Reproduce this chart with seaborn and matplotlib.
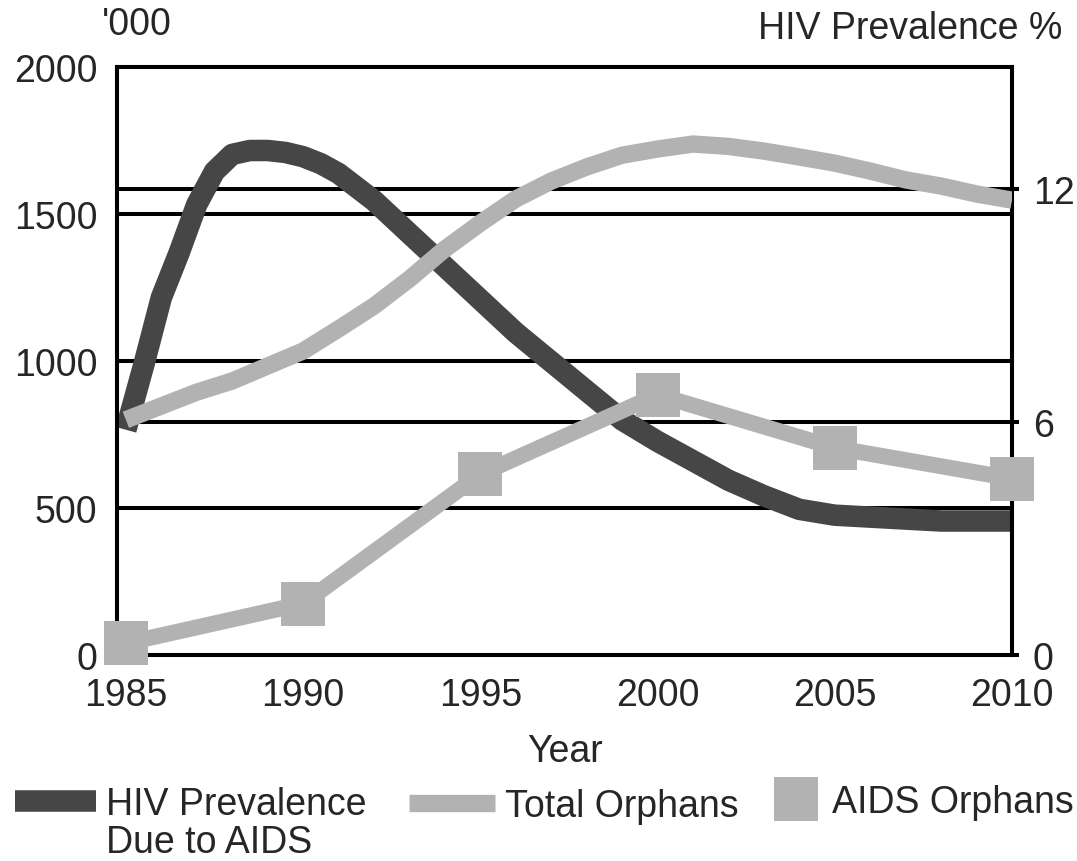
import matplotlib
matplotlib.use("Agg")
import matplotlib.pyplot as plt
import matplotlib.transforms as mtransforms
from matplotlib.lines import Line2D
import seaborn as sns

# data
hiv_years = [1985, 1985.5, 1986, 1986.5, 1987, 1987.5, 1988, 1988.5, 1989, 1989.5,
             1990, 1990.5, 1991, 1992, 1993, 1994, 1995, 1996, 1997, 1998,
             1999, 2000, 2001, 2002, 2003, 2004, 2005, 2006, 2007, 2008,
             2009, 2010]
hiv_prevalence = [5.8, 7.45, 9.2, 10.35, 11.6, 12.45, 12.89, 12.99, 12.99, 12.94,
                  12.83, 12.65, 12.4, 11.7, 10.85, 10.0, 9.15, 8.3, 7.55, 6.8,
                  6.05, 5.5, 5.0, 4.5, 4.1, 3.75, 3.6, 3.55, 3.5, 3.45,
                  3.45, 3.45]
years = list(range(1985, 2011))
total_orphans = [800, 847, 894, 932, 983, 1034, 1109, 1187, 1279, 1381,
                 1469, 1551, 1612, 1660, 1700, 1721, 1738, 1730, 1714, 1694,
                 1673, 1646, 1616, 1595, 1568, 1547]
aids_years = [1985, 1990, 1995, 2000, 2005, 2010]
aids_orphans = [40, 175, 615, 885, 705, 600]

left_ticks = [0, 500, 1000, 1500, 2000]
left_grid = [500, 1000, 1500]
right_ticks = [0, 6, 12]
x_ticks = [1985, 1990, 1995, 2000, 2005, 2010]

dark = "#464646"
light = "#b2b2b2"

sns.set_style("white")
plt.rcParams["font.family"] = ["Liberation Sans", "DejaVu Sans"]
fs = 27
W, H = 1077, 862

fig = plt.figure(figsize=(10.77, 8.62), dpi=100)
ax = fig.add_subplot(111)
fig.subplots_adjust(left=117 / W, right=1012 / W, bottom=1 - 656 / H, top=1 - 68 / H)
ax2 = ax.twinx()

# right axis sits behind, so all grid lines end up under the data lines
ax.set_zorder(2)
ax2.set_zorder(1)
ax.patch.set_visible(False)

ax.set_xlim(1984.75, 2010)
ax.set_ylim(0, 2000)
ax2.set_ylim(0, 15.14)

# grid lines (black, drawn on the back axes)
for v in right_ticks[1:]:
    ax2.axhline(v, color="black", lw=2.9, zorder=0)
blend = mtransforms.blended_transform_factory(ax2.transAxes, ax.transData)
for v in left_grid:
    ax2.plot([0, 1], [v, v], transform=blend, color="black", lw=2.9, zorder=0)

# HIV prevalence on right axis
sns.lineplot(x=hiv_years, y=hiv_prevalence, ax=ax2, color=dark, lw=15.5,
             solid_capstyle="butt", solid_joinstyle="round", clip_on=False, zorder=3)

# orphans on left axis
sns.lineplot(x=years, y=total_orphans, ax=ax, color=light, lw=12.5,
             solid_capstyle="butt", solid_joinstyle="round", zorder=3)
sns.lineplot(x=aids_years, y=aids_orphans, ax=ax, color=light, lw=11.5,
             marker="s", markersize=31, markeredgewidth=0, clip_on=False, zorder=3)

ax.set_xticks(x_ticks)
ax.set_xticklabels([str(y) for y in x_ticks], fontsize=fs)
ax.set_yticks(left_ticks)
ax.set_yticklabels([str(v) for v in left_ticks], fontsize=fs)
ax.tick_params(axis="x", length=0, pad=16)
ax.tick_params(axis="y", length=0, pad=14)

ax2.set_yticks(right_ticks)
ax2.set_yticklabels([str(v) for v in right_ticks], fontsize=fs)
ax2.tick_params(axis="y", direction="out", length=5, width=2.9, color="black", pad=10)
ax2.grid(False)
ax.grid(False)

for a in (ax, ax2):
    for s in a.spines.values():
        s.set_visible(True)
        s.set_color("black")
        s.set_linewidth(2.9)

ax.set_xlabel("Year", fontsize=fs, labelpad=14)
ax.set_ylabel("")
ax2.set_ylabel("")

fig.text(102 / W, 1 - 35 / H, "'000", fontsize=fs, ha="left", va="baseline")
fig.text(1062 / W, 1 - 39 / H, "HIV Prevalence %", fontsize=fs, ha="right", va="baseline")

# legend: three entries placed like the reference
leg_kw = dict(loc="center left", frameon=False, fontsize=fs, borderpad=0, borderaxespad=0)
leg1 = fig.legend([Line2D([], [], color=dark, lw=15.5, solid_capstyle="butt")],
                  ["HIV Prevalence"], bbox_to_anchor=(15 / W, 1 - 805 / H),
                  handlelength=2.15, handletextpad=0.27, **leg_kw)
fig.text(106 / W, 1 - 853 / H, "Due to AIDS", fontsize=fs, ha="left", va="baseline")
leg2 = fig.legend([Line2D([], [], color=light, lw=12.5, solid_capstyle="butt")],
                  ["Total Orphans"], bbox_to_anchor=(409 / W, 1 - 807 / H),
                  handlelength=2.28, handletextpad=0.27, **leg_kw)
leg3 = fig.legend([Line2D([], [], color=light, lw=0, marker="s", markersize=31,
                          markeredgewidth=0)],
                  ["AIDS Orphans"], bbox_to_anchor=(773 / W, 1 - 803 / H),
                  handlelength=1.2, handletextpad=0.37, **leg_kw)

fig.savefig("out.png", dpi=100)
